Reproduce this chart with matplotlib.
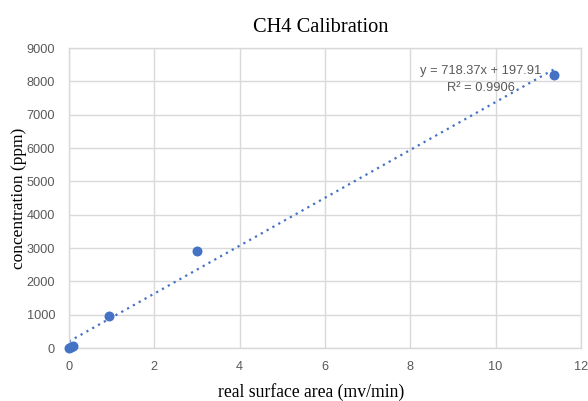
import matplotlib
matplotlib.use("Agg")
import matplotlib.pyplot as plt
import numpy as np

# Measured peak areas and known standard concentrations
area = [0.0, 0.05, 0.10, 0.94, 3.00, 11.38]
conc = [0, 30, 70, 960, 2920, 8200]

# Linear trendline reported for the calibration
slope = 718.37
intercept = 197.91
r_squared = 0.9906

xticks = [0, 2, 4, 6, 8, 10, 12]
yticks = [0, 1000, 2000, 3000, 4000, 5000, 6000, 7000, 8000, 9000]

blue = "#4472C4"
grid = "#d9d9d9"
tick_gray = "#595959"

fig = plt.figure(figsize=(5.88, 4.01), dpi=100)
ax = fig.add_axes([0.1173, 0.132, 0.8707, 0.748])

ax.set_xlim(0, 12)
ax.set_ylim(0, 9000)
ax.set_xticks(xticks)
ax.set_yticks(yticks)
ax.grid(True, color=grid, linewidth=1)
ax.set_axisbelow(True)
for s in ax.spines.values():
    s.set_color(grid)
    s.set_linewidth(1)
ax.tick_params(length=0, labelsize=9.2, labelcolor=tick_gray)
ax.tick_params(axis="x", pad=9)
ax.tick_params(axis="y", pad=10)
for lab in ax.get_xticklabels() + ax.get_yticklabels():
    lab.set_family("Liberation Sans")

# Trendline over the data range
xt = np.array([min(area), max(area)])
ax.plot(xt, slope * xt + intercept, linestyle=(0, (1, 2)), color=blue,
        linewidth=1.6, zorder=2)

ax.scatter(area, conc, s=38, color=blue, zorder=3, clip_on=False)

ax.text(9.66, 8060, f"y = {slope}x + {intercept}\nR² = {r_squared}",
        ha="center", va="center", fontsize=9.3, color=tick_gray,
        family="Liberation Sans", linespacing=1.5)

fig.text(0.546, 0.931, "CH4 Calibration", ha="center", va="center",
         fontsize=14.7, family="Liberation Serif")
ax.set_xlabel("real surface area (mv/min)", fontsize=12.7,
              family="Liberation Serif", va="center")
ax.xaxis.set_label_coords(0.473, -0.145)
ax.set_ylabel("concentration (ppm)", fontsize=12.5,
              family="Liberation Serif", va="center")
ax.yaxis.set_label_coords(-0.097, 0.5)

fig.savefig("out.png", dpi=100)
